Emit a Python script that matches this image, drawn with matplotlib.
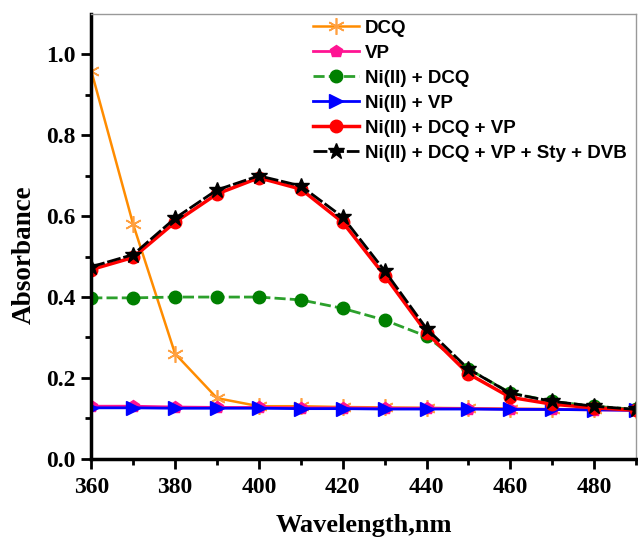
import matplotlib
matplotlib.use("Agg")
import matplotlib.pyplot as plt

wl = [360, 370, 380, 390, 400, 410, 420, 430, 440, 450, 460, 470, 480, 490]
dcq = [0.96, 0.58, 0.26, 0.15, 0.13, 0.13, 0.128, 0.127, 0.126, 0.125, 0.124, 0.123, 0.122, 0.121]
vp = [0.13, 0.13, 0.128, 0.127, 0.127, 0.126, 0.126, 0.125, 0.125, 0.124, 0.123, 0.122, 0.121, 0.12]
ni_dcq = [0.398, 0.398, 0.40, 0.40, 0.40, 0.393, 0.372, 0.343, 0.303, 0.222, 0.163, 0.142, 0.13, 0.122]
ni_vp = [0.126, 0.126, 0.125, 0.125, 0.125, 0.124, 0.124, 0.123, 0.123, 0.123, 0.122, 0.122, 0.121, 0.12]
ni_dcq_vp = [0.468, 0.498, 0.585, 0.655, 0.695, 0.667, 0.585, 0.453, 0.312, 0.21, 0.152, 0.135, 0.126, 0.12]
full = [0.475, 0.505, 0.595, 0.665, 0.70, 0.675, 0.598, 0.465, 0.322, 0.222, 0.162, 0.142, 0.13, 0.122]

labels = ["DCQ", "VP", "Ni(II) + DCQ", "Ni(II) + VP", "Ni(II) + DCQ + VP",
          "Ni(II) + DCQ + VP + Sty + DVB"]

fig = plt.figure(figsize=(6.38, 5.41), dpi=100)
ax = fig.add_axes([0.143, 0.152, 0.854, 0.822])

ax.plot(wl, dcq, color="#ff8c00", marker=(6, 2, 0), ms=12, mew=1.2, mec="#ffa040",
        lw=1.8, label=labels[0])
ax.plot(wl, vp, color="#ff1493", marker="p", ms=9, lw=2, label=labels[1])
ax.plot(wl, ni_dcq, color="#2ca02c", marker="o", ms=9, mfc="#008000", mec="#008000",
        lw=2, ls=(0, (4, 1.5)), label=labels[2])
ax.plot(wl, ni_vp, color="#0000ff", marker=">", ms=10, lw=2, label=labels[3])
ax.plot(wl, ni_dcq_vp, color="#ff0000", marker="o", ms=9, lw=2.5, label=labels[4])
ax.plot(wl, full, color="black", marker="*", ms=12, lw=2, ls=(0, (5, 1)), label=labels[5])

ax.set_xlim(360, 490)
ax.set_ylim(0, 1.1)
ax.set_xticks(range(360, 481, 20))
ax.set_xticks(range(370, 491, 20), minor=True)
ax.set_yticks([0.0, 0.2, 0.4, 0.6, 0.8, 1.0])
ax.set_yticks([0.1, 0.3, 0.5, 0.7, 0.9], minor=True)

for lab in ax.get_xticklabels() + ax.get_yticklabels():
    lab.set_fontfamily("Liberation Serif")
    lab.set_fontweight("bold")
    lab.set_fontsize(17)
ax.tick_params(axis="both", which="major", length=7, width=2, direction="out")
ax.tick_params(axis="both", which="minor", length=4, width=2, direction="out")
ax.tick_params(axis="x", pad=6)
ax.tick_params(axis="y", pad=4)

for s in ["left", "bottom"]:
    ax.spines[s].set_linewidth(2.5)
    ax.spines[s].set_color("black")
for s in ["top", "right"]:
    ax.spines[s].set_linewidth(1)
    ax.spines[s].set_color("#999999")

ax.set_xlabel("Wavelength,nm", fontfamily="Liberation Serif", fontweight="bold",
              fontsize=19, labelpad=12)
ax.set_ylabel("Absorbance", fontfamily="Liberation Serif", fontweight="bold",
              fontsize=19.5)
ax.yaxis.set_label_coords(-0.1, 0.46)

leg = ax.legend(loc="upper right", bbox_to_anchor=(1.0, 1.008), frameon=False,
                prop={"family": "Liberation Sans", "weight": "bold", "size": 13.5},
                handlelength=2.45, handletextpad=0.3, labelspacing=0.42,
                borderaxespad=0.1)

fig.savefig("out.png", dpi=100)
